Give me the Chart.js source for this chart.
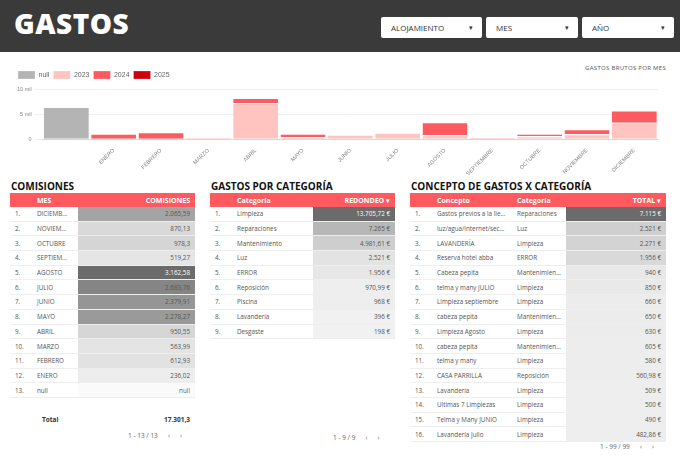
<!DOCTYPE html><html><head><meta charset="utf-8">
<script src="https://cdn.jsdelivr.net/npm/chart.js@4"></script>
<style>
body{margin:0;width:680px;height:458px;background:#fff;font-family:"Open Sans",sans-serif;position:relative;overflow:hidden}
#hdr{position:absolute;left:0;top:0;width:680px;height:52px;background:#3a3a3a}
#hdr h1{position:absolute;left:14px;top:4px;margin:0;color:#fff;font:800 28px "Open Sans";letter-spacing:0.5px}
.dd{position:absolute;top:17px;height:21px;background:#fff;border-radius:2px;font-size:8px;color:#333;line-height:21px;padding-left:10px;box-sizing:border-box}
.dd:after{content:"▾";position:absolute;right:9px;font-size:7px}
#cw{position:absolute;left:0;top:67px;width:680px;height:110px}
#ct{position:absolute;right:14px;top:64px;font-size:6px;color:#555;letter-spacing:0.3px}
.tt{position:absolute;font:700 10px "Open Sans";color:#111}
table{position:absolute;border-collapse:collapse;font-size:6.3px;color:#555;table-layout:fixed}
th{background:#ff5a60;color:#fff;font-weight:700;height:14px;padding:0 5px;text-align:left;font-size:7px}
td{height:13.7px;padding:0 5px;border-bottom:1px solid #eee;white-space:nowrap;overflow:hidden;text-overflow:ellipsis}
td.v,th.v{text-align:right}
.pg{position:absolute;font-size:6.5px;color:#666}
</style></head><body>
<div id="hdr"><h1>GASTOS</h1>
<div class="dd" style="left:381px;width:101px">ALOJAMIENTO</div>
<div class="dd" style="left:486px;width:92px">MES</div>
<div class="dd" style="left:582px;width:92px">AÑO</div></div>
<div id="ct">GASTOS BRUTOS POR MES</div>
<div id="cw"><canvas id="c"></canvas></div>
<div class="tt" style="left:11px;top:179px">COMISIONES</div>
<div class="tt" style="left:211px;top:179px">GASTOS POR CATEGORÍA</div>
<div class="tt" style="left:411px;top:179px">CONCEPTO DE GASTOS X CATEGORÍA</div>
<table id="t1" style="left:10px;top:193px;width:185px"></table>
<table id="t2" style="left:210px;top:193px;width:185px"></table>
<table id="t3" style="left:410px;top:193px;width:256px"></table>
<div style="position:absolute;left:42px;top:415px;font-size:6.5px;font-weight:700;color:#333">Total</div>
<div style="position:absolute;left:150px;top:415px;width:40px;text-align:right;font-size:6.5px;font-weight:700;color:#333">17.301,3</div>
<div class="pg" style="left:128px;top:431px">1 - 13 / 13 &nbsp;&nbsp;&nbsp;&nbsp;&nbsp;‹ &nbsp;&nbsp;&nbsp;&nbsp;&nbsp;›</div>
<div class="pg" style="left:333px;top:433px">1 - 9 / 9 &nbsp;&nbsp;&nbsp;&nbsp;&nbsp;‹ &nbsp;&nbsp;&nbsp;&nbsp;&nbsp;›</div>
<div class="pg" style="left:600px;top:442px">1 - 99 / 99 &nbsp;&nbsp;&nbsp;&nbsp;&nbsp;‹ &nbsp;&nbsp;&nbsp;&nbsp;&nbsp;›</div>
<script>
const months=["","ENERO","FEBRERO","MARZO","ABRIL","MAYO","JUNIO","JULIO","AGOSTO","SEPTIEMBRE","OCTUBRE","NOVIEMBRE","DICIEMBRE"];
const sNull=[6400,0,0,0,0,0,0,0,0,0,0,0,0];
const s2023=[0,0,0,0,7200,400,900,1300,800,150,600,1000,3300];
const s2024=[0,1100,1400,250,1000,700,0,0,2600,250,500,1000,2400];
const s2025=[0,0,0,0,0,0,0,0,0,0,0,0,0];
const comMes=["DICIEMB...","NOVIEM...","OCTUBRE","SEPTIEM...","AGOSTO","JULIO","JUNIO","MAYO","ABRIL","MARZO","FEBRERO","ENERO","null"];
const comVal=[2065.59,870.13,978.3,519.27,3162.58,2683.76,2379.91,2278.27,950.55,563.99,612.93,236.02,null];
const comTxt=["2.065,59","870,13","978,3","519,27","3.162,58","2.683,76","2.379,91","2.278,27","950,55","563,99","612,93","236,02","null"];
const catName=["Limpieza","Reparaciones","Mantenimiento","Luz","ERROR","Reposición","Piscina","Lavandería","Desgaste"];
const catVal=[13705.72,7265,4981.61,2521,1956,970.99,968,396,198];
const catTxt=["13.705,72 €","7.265 €","4.981,61 €","2.521 €","1.956 €","970,99 €","968 €","396 €","198 €"];
const conName=["Gastos previos a la lle...","luz/agua/internet/secur...","LAVANDERÍA","Reserva hotel abba","Cabeza pepita","telma y many JULIO","Limpieza septiembre","cabeza pepita","Limpieza Agosto","cabeza pepita","telma y many","CASA PARRILLA","Lavandería","Ultimas 7 Limpiezas","Telma y Many JUNIO","Lavandería Julio"];
const conCat=["Reparaciones","Luz","Limpieza","ERROR","Mantenimiento","Limpieza","Limpieza","Mantenimiento","Limpieza","Mantenimiento","Limpieza","Reposición","Limpieza","Limpieza","Limpieza","Limpieza"];
const conVal=[7115,2521,2271,1956,940,850,660,650,630,605,580,560.98,509,500,490,482.86];
const conTxt=["7.115 €","2.521 €","2.271 €","1.956 €","940 €","850 €","660 €","650 €","630 €","605 €","580 €","560,98 €","509 €","500 €","490 €","482,86 €"];

function shade(v,max){if(v==null)return["#fafafa","#666"];const t=Math.min(1,v/max);const g=Math.round(242-Math.pow(t,1.3)*135);return["rgb("+g+","+g+","+g+")",t>0.85?"#fff":"#555"];}
function build(id,heads,widths,rows,vals,max){
 let h="<colgroup>"+widths.map(w=>'<col style="width:'+w+'px">').join("")+"</colgroup><tr>"+heads.map((x,i)=>'<th class="'+(i==heads.length-1?'v':'')+'">'+x+"</th>").join("")+"</tr>";
 rows.forEach((r,i)=>{const [bg,fg]=shade(vals[i],max);h+="<tr>"+r.map((c,j)=>j==r.length-1?'<td class="v" style="background:'+bg+';color:'+fg+'">'+c+"</td>":"<td>"+c+"</td>").join("")+"</tr>";});
 document.getElementById(id).innerHTML=h;}
build("t1",["","MES","COMISIONES"],[22,46,117],comMes.map((m,i)=>[(i+1)+".",m,comTxt[i]]),comVal,3162.58);
build("t2",["","Categoría","REDONDEO ▾"],[22,81,82],catName.map((m,i)=>[(i+1)+".",m,catTxt[i]]),catVal,13705.72);
build("t3",["","Concepto","Categoría","TOTAL ▾"],[22,80,54,100],conName.map((m,i)=>[(i+1)+".",m,conCat[i],conTxt[i]]),conVal,7115);

new Chart(document.getElementById("c"),{type:"bar",
data:{labels:months,datasets:[
{label:"null",data:sNull,backgroundColor:"#b4b4b4"},
{label:"2023",data:s2023,backgroundColor:"#ffc4c0"},
{label:"2024",data:s2024,backgroundColor:"#ff5a60"},
{label:"2025",data:s2025,backgroundColor:"#d0000f"}].map(d=>Object.assign(d,{borderColor:"#fff",borderWidth:{top:1},barPercentage:0.95,categoryPercentage:1}))},
options:{responsive:true,maintainAspectRatio:false,animation:false,
layout:{padding:{left:14,right:22,top:0,bottom:0}},
plugins:{legend:{position:"top",align:"start",labels:{boxWidth:17,boxHeight:8,font:{size:7},color:"#666",padding:4}},tooltip:{enabled:false}},
scales:{x:{stacked:true,grid:{display:false},ticks:{font:{size:5.5},color:"#888",maxRotation:45,minRotation:45,padding:0}},
y:{stacked:true,min:0,max:10000,ticks:{stepSize:5000,font:{size:5.5},color:"#888",callback:v=>v==0?"0":(v/1000)+" mil"},grid:{color:"#f0f0f0"},border:{display:false}}}}});
</script></body></html>
